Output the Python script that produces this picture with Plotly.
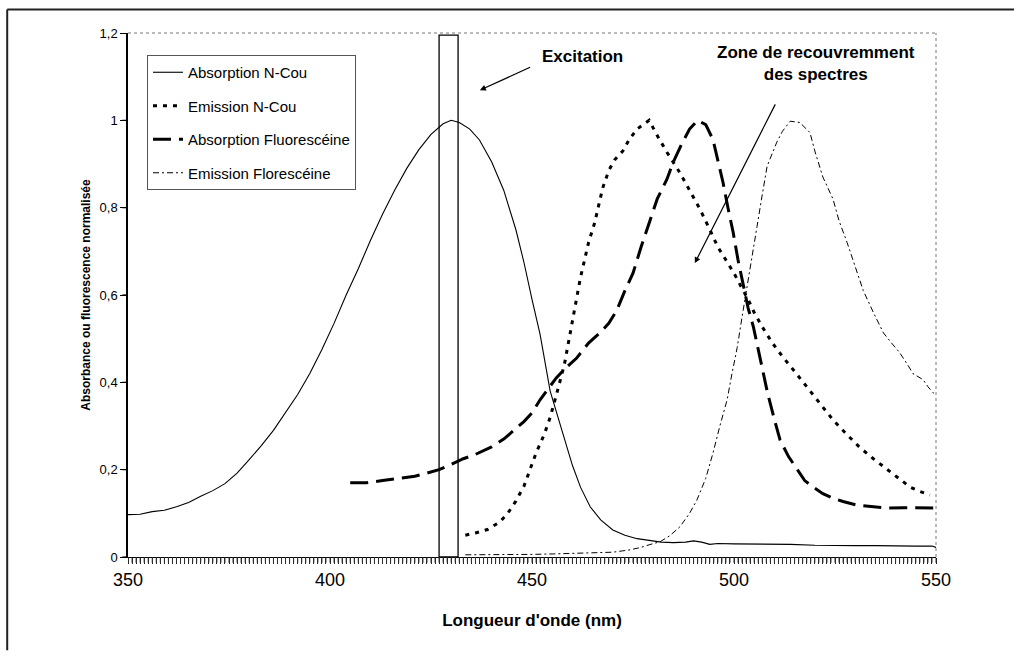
import plotly.graph_objects as go

# Absorption N-Cou
abs_ncou_nm = [350, 353, 356, 359, 362, 365, 368, 371, 374, 377, 380, 383, 386, 389, 392, 395,
               398, 401, 404, 407, 410, 413, 416, 419, 422, 425, 428, 430, 432, 434.6, 437, 440,
               443, 446, 448, 450, 452, 454.5, 457, 460, 462, 464.4, 467, 470, 473, 476, 479,
               482, 485, 488, 490, 492, 494, 496, 500, 505, 510, 514, 520, 525, 530, 535, 540,
               545, 549, 550]
abs_ncou = [0.097, 0.098, 0.104, 0.107, 0.115, 0.125, 0.139, 0.152, 0.168, 0.192, 0.223, 0.255,
            0.29, 0.33, 0.372, 0.42, 0.475, 0.535, 0.6, 0.66, 0.725, 0.785, 0.84, 0.89, 0.933,
            0.968, 0.992, 1.0, 0.995, 0.98, 0.955, 0.905, 0.84, 0.75, 0.675, 0.59, 0.51, 0.38,
            0.3, 0.21, 0.16, 0.115, 0.085, 0.062, 0.05, 0.042, 0.038, 0.034, 0.033, 0.034, 0.037,
            0.034, 0.029, 0.031, 0.03, 0.03, 0.03, 0.029, 0.027, 0.026, 0.026, 0.026, 0.025,
            0.025, 0.025, 0.022]

# Emission N-Cou
em_ncou_nm = [433.5, 436, 439, 442, 444, 446, 448, 450, 451, 453, 454.5, 456, 458, 460, 462, 464,
              465.5, 467.5, 469, 470.5, 472.5, 474, 476, 477.5, 479, 481, 483.4, 486.6, 489,
              491.6, 494, 496, 498, 500, 502, 503.5, 505, 507, 509.5, 512, 515, 518, 521, 524.5,
              528, 531, 534.5, 538, 541, 543.6, 546, 548.5]
em_ncou = [0.05, 0.055, 0.063, 0.08, 0.1, 0.128, 0.162, 0.21, 0.238, 0.28, 0.32, 0.37, 0.44,
           0.54, 0.64, 0.72, 0.765, 0.845, 0.885, 0.91, 0.93, 0.955, 0.98, 0.99, 1.0, 0.965,
           0.927, 0.88, 0.84, 0.796, 0.75, 0.71, 0.68, 0.65, 0.615, 0.59, 0.56, 0.527, 0.49,
           0.459, 0.425, 0.39, 0.355, 0.314, 0.28, 0.252, 0.225, 0.2, 0.178, 0.16, 0.15, 0.142]

# Absorption Fluorescéine
abs_fluo_nm = [405, 409, 413, 417, 421, 424, 427, 430, 433, 436, 440, 443, 445.5, 448, 450, 452,
               454, 456, 458, 461, 464, 467, 469, 471, 473, 475, 477, 479, 481, 483.4, 485, 487,
               489, 491, 493, 494.8, 496, 497.3, 498.5, 499.8, 501, 502.3, 503.5, 504.8, 506.5,
               508.3, 510, 511.4, 513.5, 515.6, 517.5, 519.6, 522, 524.5, 527, 530.4, 534,
               537.9, 542, 546, 550]
abs_fluo = [0.17, 0.17, 0.175, 0.18, 0.185, 0.192, 0.2, 0.212, 0.225, 0.235, 0.252, 0.27, 0.29,
            0.31, 0.33, 0.36, 0.385, 0.41, 0.43, 0.455, 0.49, 0.515, 0.535, 0.565, 0.61, 0.65,
            0.71, 0.765, 0.82, 0.865, 0.905, 0.945, 0.98, 1.0, 0.99, 0.956, 0.91, 0.857, 0.8,
            0.743, 0.68, 0.62, 0.57, 0.527, 0.45, 0.376, 0.315, 0.268, 0.23, 0.2, 0.175, 0.16,
            0.145, 0.135, 0.127, 0.119, 0.115, 0.112, 0.113, 0.112, 0.112]

# Emission Florescéine
em_fluo_nm = [433.5, 440, 445, 450, 455, 460, 466, 470, 474, 477, 479, 481.7, 484, 486.6, 489,
              490.8, 493, 494.8, 496.5, 498.3, 499.5, 500.8, 502, 503.2, 504.5, 505.7, 507,
              508.2, 509.5, 510.6, 512, 513.9, 516.3, 517.5, 518.8, 520, 522, 524.5, 526, 528,
              530, 532, 534.5, 537, 539, 541, 543, 544.3, 546.8, 548, 549.3, 550]
em_fluo = [0.005, 0.005, 0.006, 0.006, 0.007, 0.008, 0.009, 0.011, 0.016, 0.022, 0.028, 0.035,
           0.048, 0.069, 0.1, 0.13, 0.18, 0.238, 0.3, 0.36, 0.42, 0.48, 0.55, 0.62, 0.69, 0.757,
           0.83, 0.895, 0.925, 0.95, 0.975, 0.998, 0.995, 0.985, 0.972, 0.93, 0.87, 0.82, 0.77,
           0.72, 0.665, 0.61, 0.56, 0.513, 0.49, 0.468, 0.44, 0.42, 0.406, 0.39, 0.376, 0.37]

x_labels = [350, 400, 450, 500, 550]
x_tick_step = 1  # a small tick every nanometre, a label every 50
y_ticks = [0, 0.2, 0.4, 0.6, 0.8, 1, 1.2]

excitation_band = (427, 431.7)

font = "Liberation Sans, Arial, sans-serif"

x_tickvals = list(range(x_labels[0], x_labels[-1] + 1, x_tick_step))
x_ticktext = [str(v) if v in x_labels else "" for v in x_tickvals]

series = [
    ("Absorption N-Cou", abs_ncou_nm, abs_ncou, dict(color="black", width=1.1)),
    ("Emission N-Cou", em_ncou_nm, em_ncou, dict(color="black", width=3, dash="4px,6px")),
    ("Absorption Fluorescéine", abs_fluo_nm, abs_fluo, dict(color="black", width=3, dash="18px,8px")),
    ("Emission Florescéine", em_fluo_nm, em_fluo, dict(color="black", width=1, dash="6px,3px,2px,3px")),
]

fig = go.Figure()
for i, (name, xs, ys, line) in enumerate(series):
    fig.add_trace(go.Scatter(x=xs, y=ys, mode="lines", name=name, line=line,
                             legendgroup=f"g{i}", hoverinfo="skip"))

# excitation band
fig.add_shape(type="rect", xref="x", yref="y", x0=excitation_band[0], x1=excitation_band[1],
              y0=0, y1=1.195, line=dict(color="black", width=1.3),
              fillcolor="rgba(0,0,0,0)", layer="above")

# dotted top / right border of the plot area
fig.add_shape(type="line", xref="paper", yref="paper", x0=0, x1=1, y0=1, y1=1,
              line=dict(color="#777", width=1, dash="dot"))
fig.add_shape(type="line", xref="paper", yref="paper", x0=1, x1=1, y0=0, y1=1,
              line=dict(color="#777", width=1, dash="dot"))

# outer frame (left and top)
fig.add_shape(type="line", xref="paper", yref="paper", x0=-0.1495, x1=-0.1495, y0=-0.178, y1=1.045,
              line=dict(color="#222", width=2))
fig.add_shape(type="line", xref="paper", yref="paper", x0=-0.1495, x1=1.1, y0=1.045, y1=1.045,
              line=dict(color="#222", width=2))

# tick marks drawn as short strokes hanging off the axes (Excel-style dense x ticks)
for v in x_tickvals:
    fig.add_shape(type="line", xref="x", yref="paper", x0=v, x1=v, y0=0, y1=-0.011,
                  line=dict(color="#333", width=1))
for v in y_ticks:
    fig.add_shape(type="line", xref="paper", yref="y", x0=0, x1=-0.007, y0=v, y1=v,
                  line=dict(color="black", width=1.2))

fig.add_annotation(x=437.1, y=1.069, ax=449.9, ay=1.123, axref="x", ayref="y", xref="x", yref="y",
                   text="", showarrow=True, arrowhead=2, arrowsize=1, arrowwidth=1.2, arrowcolor="black")
fig.add_annotation(x=462.6, y=1.147, xref="x", yref="y", text="<b>Excitation</b>", showarrow=False,
                   font=dict(family=font, size=17, color="black"))

fig.add_annotation(x=490.3, y=0.673, ax=510.4, ay=1.040, axref="x", ayref="y", xref="x", yref="y",
                   text="", showarrow=True, arrowhead=2, arrowsize=1, arrowwidth=1.2, arrowcolor="black")
fig.add_annotation(x=520.4, y=1.131, xref="x", yref="y",
                   text="<b>Zone de recouvremment</b><br><b>des spectres</b>", showarrow=False,
                   font=dict(family=font, size=17, color="black"))

fig.update_layout(
    width=1014, height=657,
    margin=dict(l=128, r=78, t=33, b=100),
    paper_bgcolor="white", plot_bgcolor="white",
    separators=", ",
    font=dict(family=font, color="black"),
    showlegend=True,
    legend=dict(x=0.0235, y=0.958, xanchor="left", yanchor="top",
                bgcolor="white", bordercolor="#555", borderwidth=1,
                font=dict(family=font, size=15, color="black"),
                tracegroupgap=11, itemwidth=30),
    xaxis=dict(range=[350, 550], tickmode="array", tickvals=x_tickvals, ticktext=x_ticktext,
               ticks="outside", ticklen=6, tickcolor="#222", tickwidth=1,
               showline=True, linecolor="black", linewidth=1.2, showgrid=False, zeroline=False,
               tickfont=dict(family=font, size=18, color="black"), automargin=False,
               title=dict(text="<b>Longueur d'onde (nm)</b>", font=dict(family=font, size=17),
                          standoff=25)),
    yaxis=dict(range=[0, 1.2], tickmode="array", tickvals=y_ticks, ticks="outside", ticklen=6,
               tickcolor="black", tickwidth=1.2,
               showline=True, linecolor="black", linewidth=1.5, showgrid=False, zeroline=False,
               tickfont=dict(family=font, size=13, color="black"), automargin=False,
               title=dict(text="<b>Absorbance ou fluorescence normalisée</b>",
                          font=dict(family=font, size=12), standoff=6)),
)

# the page body has a default 8px margin; drop it so the figure sits at the window corner
fig.write_html("out.html", config={"displayModeBar": False},
               post_script="document.body.style.margin='0';")
